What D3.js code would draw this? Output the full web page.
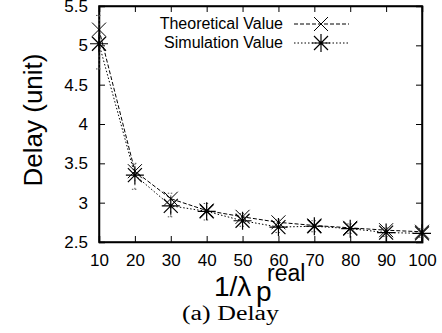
<!DOCTYPE html>
<html>
<head>
<meta charset="utf-8">
<script src="https://cdn.jsdelivr.net/npm/d3@7"></script>
<style>
  body { margin: 0; background: #fff; }
  text { font-family: "Liberation Sans", Arial, sans-serif; }
</style>
</head>
<body>
<script>
const xValues = [10, 20, 30, 40, 50, 60, 70, 80, 90, 100]
const theoretical = [5.2, 3.4, 3.05, 2.9, 2.82, 2.75, 2.71, 2.68, 2.65, 2.63]
const simulation = [5.02, 3.35, 2.96, 2.89, 2.77, 2.69, 2.70, 2.67, 2.62, 2.61]
const simLow = [4.70, 3.17, 2.82, 2.78, 2.70, 2.62, 2.63, 2.61, 2.57, 2.56]
const simHigh = [5.38, 3.50, 3.12, 2.99, 2.86, 2.78, 2.77, 2.73, 2.68, 2.67]
const yTicks = [2.5, 3, 3.5, 4, 4.5, 5, 5.5]
const seriesNames = ['Theoretical Value', 'Simulation Value']

const W = 442, H = 333
const margin = { top: 6, right: 20, bottom: 91, left: 99 }
const width = W - margin.left - margin.right
const height = H - margin.top - margin.bottom

const svg = d3.select('body').append('svg')
  .attr('width', W)
  .attr('height', H)

const g = svg.append('g')
  .attr('transform', `translate(${margin.left} ${margin.top})`)

const xScale = d3.scaleLinear().domain([10, 100]).range([0, width])
const yScale = d3.scaleLinear().domain([2.5, 5.5]).range([height, 0])

// inward ticks on all four sides
g.append('g')
  .attr('transform', `translate(0, ${height})`)
  .call(d3.axisBottom(xScale).tickValues(xValues).tickSize(-6).tickPadding(12).tickFormat(d3.format('d')))
g.append('g')
  .call(d3.axisTop(xScale).tickValues(xValues).tickSize(-6).tickFormat(''))
g.append('g')
  .call(d3.axisLeft(yScale).tickValues(yTicks).tickSize(-6).tickPadding(11).tickFormat(d => d))
g.append('g')
  .attr('transform', `translate(${width}, 0)`)
  .call(d3.axisRight(yScale).tickValues(yTicks).tickSize(-6).tickFormat(''))

g.selectAll('.domain').attr('stroke', '#000').attr('stroke-width', 1.5)
g.selectAll('.tick line').attr('stroke', '#000')
g.selectAll('.tick text').attr('font-size', 17).attr('fill', '#000')
  .style('font-family', '"Liberation Sans", Arial, sans-serif')

g.append('rect')
  .attr('width', width).attr('height', height)
  .attr('fill', 'none').attr('stroke', '#000').attr('stroke-width', 1.5)

// error bars for simulation
const errW = 3
xValues.forEach((x, i) => {
  const cx = xScale(x)
  g.append('line')
    .attr('x1', cx).attr('x2', cx)
    .attr('y1', yScale(simLow[i])).attr('y2', yScale(simHigh[i]))
    .attr('stroke', '#555').attr('stroke-dasharray', '1.5,2.5')
  ;[simLow[i], simHigh[i]].forEach(v => {
    g.append('line')
      .attr('x1', cx - errW).attr('x2', cx + errW)
      .attr('y1', yScale(v)).attr('y2', yScale(v))
      .attr('stroke', '#555').attr('stroke-dasharray', '1.5,1.5')
  })
})

const line = d3.line()
  .x((d, i) => xScale(xValues[i]))
  .y(d => yScale(d))

g.append('path').datum(theoretical)
  .attr('d', line).attr('fill', 'none')
  .attr('stroke', '#000').attr('stroke-width', 1)
  .attr('stroke-dasharray', '4,2')
g.append('path').datum(simulation)
  .attr('d', line).attr('fill', 'none')
  .attr('stroke', '#000').attr('stroke-width', 1)
  .attr('stroke-dasharray', '1.5,2')

const s = 7
function cross(sel, cx, cy) {
  sel.append('path')
    .attr('d', `M${cx - s},${cy - s}L${cx + s},${cy + s}M${cx - s},${cy + s}L${cx + s},${cy - s}`)
    .attr('stroke', '#000').attr('stroke-width', 1).attr('fill', 'none')
}
function star(sel, cx, cy) {
  const r = 9
  sel.append('path')
    .attr('d', `M${cx - s},${cy - s}L${cx + s},${cy + s}M${cx - s},${cy + s}L${cx + s},${cy - s}` +
      `M${cx},${cy - r}L${cx},${cy + r}M${cx - r},${cy}L${cx + r},${cy}`)
    .attr('stroke', '#000').attr('stroke-width', 1.2).attr('fill', 'none')
}

theoretical.forEach((d, i) => cross(g, xScale(xValues[i]), yScale(d)))
simulation.forEach((d, i) => star(g, xScale(xValues[i]), yScale(d)))

// legend
const legend = svg.append('g')
const legY = [24, 43]
seriesNames.forEach((name, i) => {
  legend.append('text')
    .attr('x', 283).attr('y', legY[i] + 5)
    .attr('text-anchor', 'end')
    .attr('font-size', 16)
    .text(name)
  legend.append('line')
    .attr('x1', 294).attr('x2', 349)
    .attr('y1', legY[i]).attr('y2', legY[i])
    .attr('stroke', '#000')
    .attr('stroke-dasharray', i === 0 ? '4,2' : '1.5,2')
  if (i === 0) cross(legend, 321, legY[i])
  else star(legend, 321, legY[i])
})

// axis titles
svg.append('text')
  .attr('transform', 'translate(42, 120) rotate(-90)')
  .attr('text-anchor', 'middle')
  .attr('font-size', 26)
  .text('Delay (unit)')

const xt = svg.append('text').attr('font-size', 28)
xt.append('tspan').attr('x', 214).attr('y', 296).text('1/λ')
xt.append('tspan').attr('x', 256).attr('y', 301).text('p')
svg.append('text')
  .attr('x', 267).attr('y', 281)
  .attr('font-size', 23)
  .text('real')

svg.append('text')
  .attr('x', 182).attr('y', 320)
  .attr('font-size', 20)
  .attr('textLength', 97)
  .attr('lengthAdjust', 'spacingAndGlyphs')
  .style('font-family', '"Liberation Serif", "DejaVu Serif", serif')
  .text('(a) Delay')
</script>
</body>
</html>
